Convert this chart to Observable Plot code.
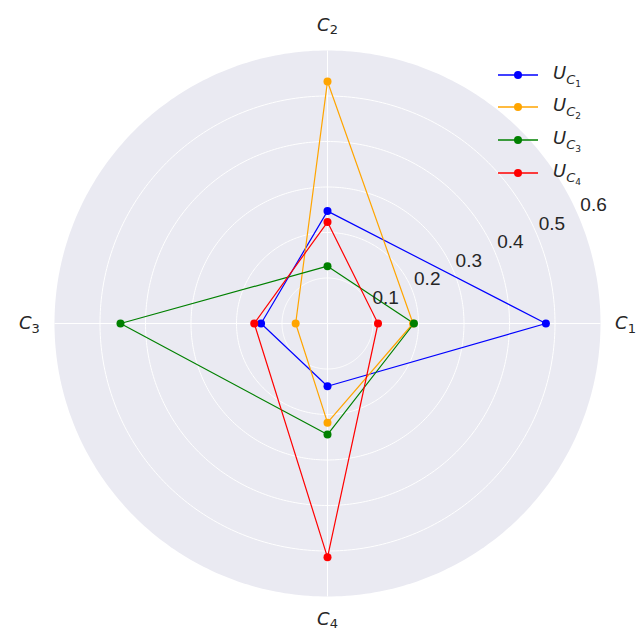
<!DOCTYPE html>
<html><head><meta charset="utf-8">
<script src="https://cdn.jsdelivr.net/npm/d3@7"></script>
<script src="https://cdn.jsdelivr.net/npm/@observablehq/plot@0.6"></script>
<style>
body{margin:0;background:#fff}
#wrap{position:relative;width:639px;height:637px}
.leg{position:absolute;left:496px;font-family:"DejaVu Sans",sans-serif;font-size:18px;color:#262626;display:flex;align-items:center;height:30px}
.leg svg{margin-right:13px}
.leg i{font-style:italic}
.leg sub{font-size:13px;vertical-align:-5px}
.leg sub sub{font-size:9px;vertical-align:-3px;font-style:normal}
</style>
</head><body><div id="wrap"></div>
<script>
const categories = ["C1", "C2", "C3", "C4"];
const seriesNames = ["U_C1", "U_C2", "U_C3", "U_C4"];
const seriesColors = ["blue", "orange", "green", "red"];
const uC1 = [0.48, 0.247, 0.146, 0.138];
const uC2 = [0.188, 0.532, 0.070, 0.218];
const uC3 = [0.19, 0.126, 0.455, 0.244];
const uC4 = [0.111, 0.223, 0.161, 0.514];
const radialTicks = [0.1, 0.2, 0.3, 0.4, 0.5, 0.6];
const rMax = 0.6;

const ang = i => i * Math.PI / 2;
const allSeries = [uC1, uC2, uC3, uC4];
const pts = [];
allSeries.forEach((vals, s) => vals.forEach((v, i) => pts.push({
  series: seriesNames[s], cat: categories[i], r: v,
  x: v * Math.cos(ang(i)), y: v * Math.sin(ang(i))
})));

function ring(r) {
  const out = [];
  for (let a = 0; a < 360; a += 1) out.push({r, x: r * Math.cos(a * Math.PI / 180), y: r * Math.sin(a * Math.PI / 180)});
  return out;
}
const bg = ring(rMax);
const rings = radialTicks.filter(t => t < rMax).flatMap(ring);
const spokes = categories.map((c, i) => ({x1: 0, y1: 0, x2: rMax * Math.cos(ang(i)), y2: rMax * Math.sin(ang(i))}));
const labA = 24 * Math.PI / 180;
const labR = 0.655;

const chart = Plot.plot({
  width: 639, height: 637,
  marginLeft: 54, marginRight: 39, marginTop: 50, marginBottom: 41,
  x: {domain: [-rMax, rMax], axis: null},
  y: {domain: [-rMax, rMax], axis: null},
  color: {domain: seriesNames, range: seriesColors},
  style: {background: "white"},
  marks: [
    Plot.line(bg, {x: "x", y: "y", curve: "linear-closed", fill: "#eaeaf2", stroke: "none"}),
    Plot.line(rings, {x: "x", y: "y", z: "r", curve: "linear-closed", stroke: "white", strokeWidth: 1}),
    Plot.link(spokes, {x1: "x1", y1: "y1", x2: "x2", y2: "y2", stroke: "white", strokeWidth: 1}),
    Plot.line(pts, {x: "x", y: "y", z: "series", stroke: "series", curve: "linear-closed", strokeWidth: 1.2}),
    Plot.dot(pts, {x: "x", y: "y", fill: "series", r: 4, stroke: "none"}),
    Plot.text(radialTicks, {x: d => (d + 0.04) * Math.cos(labA), y: d => (d + 0.04) * Math.sin(labA), text: d => d.toFixed(1), fontSize: 19, fill: "#262626", fontFamily: "Liberation Sans"}),
    Plot.text(categories, {x: (d, i) => labR * Math.cos(ang(i)), y: (d, i) => labR * Math.sin(ang(i)) + (i === 3 ? 0.005 : 0), text: d => d, fontSize: 18, fill: "#262626", fontFamily: "DejaVu Sans", className: "catlab"})
  ]
});
document.getElementById("wrap").appendChild(chart);

// render category labels as C with subscript
d3.select(chart).selectAll(".catlab text").each(function(d, i) {
  const t = d3.select(this);
  const txt = t.text();
  t.text("");
  t.append("tspan").attr("font-style", "italic").text(txt[0]);
  t.append("tspan").attr("font-size", 13).attr("dy", "0.25em").text(txt.slice(1));
});

// legend overlay
const legTops = [60, 92, 125, 158];
seriesNames.forEach((n, k) => {
  const div = document.createElement("div");
  div.className = "leg";
  div.style.top = legTops[k] + "px";
  const col = seriesColors[k];
  div.innerHTML = `<svg width="44" height="12"><line x1="2" x2="42" y1="6" y2="6" stroke="${col}" stroke-width="1.5"/><circle cx="22" cy="6" r="4" fill="${col}"/></svg><span><i>U</i><sub><i>C</i><sub>${n.slice(3)}</sub></sub></span>`;
  document.getElementById("wrap").appendChild(div);
});
</script>
</body></html>
